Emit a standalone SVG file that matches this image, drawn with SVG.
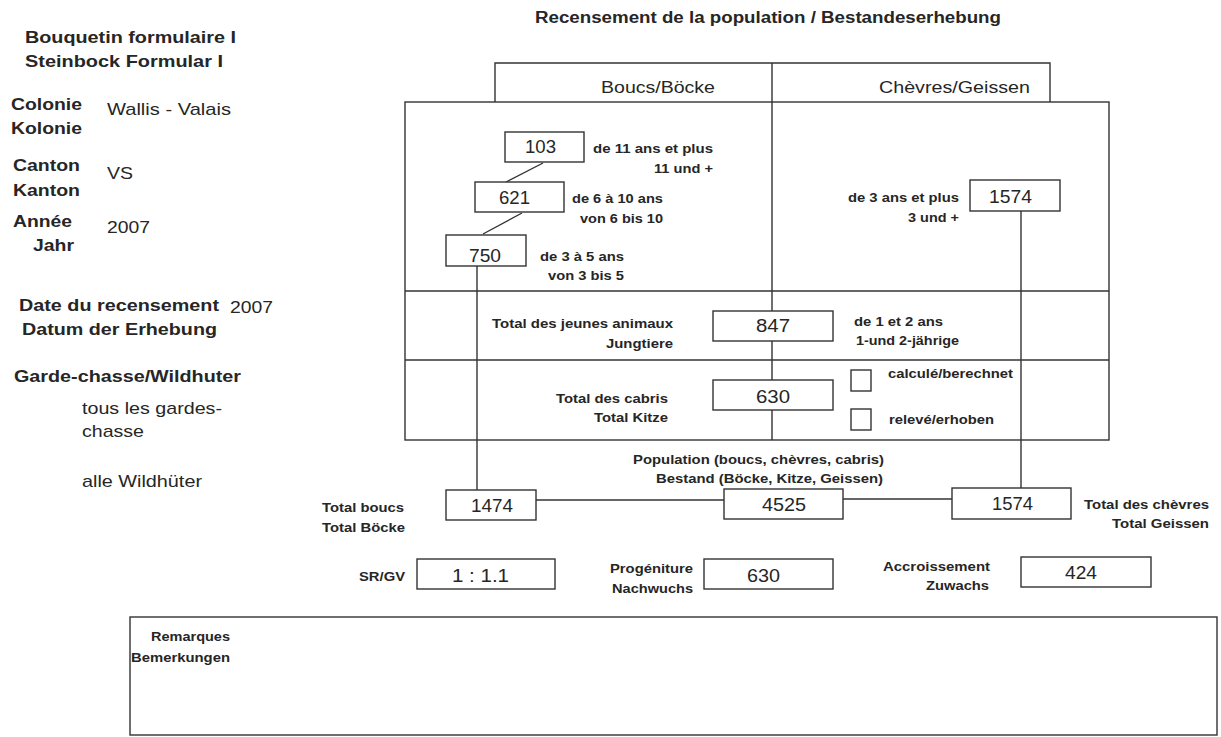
<svg xmlns="http://www.w3.org/2000/svg" width="1221" height="737" viewBox="0 0 1221 737">
<style>
text{font-family:"Liberation Sans",Arial,sans-serif;fill:#262626}
.b{font-weight:bold}
.lb{font-size:16.5px;font-weight:bold}
.lv{font-size:17px}
.sm{font-size:13px;font-weight:bold}
.num{font-size:17.5px}
.box{fill:#fff;stroke:#333;stroke-width:1.4}
.ln{stroke:#333;stroke-width:1.4;fill:none}
</style>
<rect x="0" y="0" width="1221" height="737" fill="#fff"/>

<g id="title">
<text class="b" x="535" y="23" font-size="16" textLength="466" lengthAdjust="spacingAndGlyphs">Recensement de la population / Bestandeserhebung</text>
</g>

<g id="left-info">
<text class="lb" x="25" y="43" textLength="211" lengthAdjust="spacingAndGlyphs">Bouquetin formulaire I</text>
<text class="lb" x="25" y="67" textLength="198" lengthAdjust="spacingAndGlyphs">Steinbock Formular I</text>
<text class="lb" x="11" y="110" textLength="71" lengthAdjust="spacingAndGlyphs">Colonie</text>
<text class="lb" x="11" y="134" textLength="71" lengthAdjust="spacingAndGlyphs">Kolonie</text>
<text class="lv" x="107" y="115" textLength="124" lengthAdjust="spacingAndGlyphs">Wallis - Valais</text>
<text class="lb" x="13" y="171" textLength="67" lengthAdjust="spacingAndGlyphs">Canton</text>
<text class="lb" x="13" y="196" textLength="67" lengthAdjust="spacingAndGlyphs">Kanton</text>
<text class="lv" x="107" y="179" textLength="26" lengthAdjust="spacingAndGlyphs">VS</text>
<text class="lb" x="13" y="227" textLength="59" lengthAdjust="spacingAndGlyphs">Année</text>
<text class="lb" x="33" y="251" textLength="41" lengthAdjust="spacingAndGlyphs">Jahr</text>
<text class="lv" x="107" y="233" textLength="43" lengthAdjust="spacingAndGlyphs">2007</text>
<text class="lb" x="19" y="311" textLength="200" lengthAdjust="spacingAndGlyphs">Date du recensement</text>
<text class="lv" x="230" y="313" textLength="43" lengthAdjust="spacingAndGlyphs">2007</text>
<text class="lb" x="22" y="335" textLength="195" lengthAdjust="spacingAndGlyphs">Datum der Erhebung</text>
<text class="lb" x="14" y="382" textLength="227" lengthAdjust="spacingAndGlyphs">Garde-chasse/Wildhuter</text>
<text class="lv" x="82" y="414" textLength="140" lengthAdjust="spacingAndGlyphs">tous les gardes-</text>
<text class="lv" x="82" y="437" textLength="62" lengthAdjust="spacingAndGlyphs">chasse</text>
<text class="lv" x="82" y="487" textLength="120" lengthAdjust="spacingAndGlyphs">alle Wildhüter</text>
</g>

<g id="table-frame">
<polyline class="ln" points="495,102 495,63 1050,63 1050,102"/>
<rect class="ln" x="405" y="102" width="704" height="338"/>
<line class="ln" x1="772" y1="63" x2="772" y2="440"/>
<line class="ln" x1="405" y1="291" x2="1109" y2="291"/>
<line class="ln" x1="405" y1="360" x2="1109" y2="360"/>
<text class="lv" x="601" y="93" textLength="114" lengthAdjust="spacingAndGlyphs">Boucs/Böcke</text>
<text class="lv" x="879" y="93" textLength="151" lengthAdjust="spacingAndGlyphs">Chèvres/Geissen</text>
</g>

<g id="connectors">
<line class="ln" x1="543" y1="163" x2="506" y2="182"/>
<line class="ln" x1="522" y1="213" x2="483" y2="234"/>
<line class="ln" x1="477" y1="266" x2="477" y2="490"/>
<line class="ln" x1="1021" y1="211" x2="1021" y2="488"/>
<line class="ln" x1="536" y1="500" x2="724" y2="500"/>
<line class="ln" x1="843" y1="499" x2="952" y2="499"/>
</g>

<g id="node-bucks-11plus">
<rect class="box" x="505" y="132" width="79" height="30"/>
<text class="num" x="525" y="153" textLength="31" lengthAdjust="spacingAndGlyphs">103</text>
<text class="sm" x="593" y="153" textLength="120" lengthAdjust="spacingAndGlyphs">de 11 ans et plus</text>
<text class="sm" x="654" y="173" textLength="59" lengthAdjust="spacingAndGlyphs">11 und +</text>
</g>

<g id="node-bucks-6-10">
<rect class="box" x="475" y="182" width="89" height="30"/>
<text class="num" x="499" y="204" textLength="31" lengthAdjust="spacingAndGlyphs">621</text>
<text class="sm" x="572" y="203" textLength="91" lengthAdjust="spacingAndGlyphs">de 6 à 10 ans</text>
<text class="sm" x="580" y="223" textLength="83" lengthAdjust="spacingAndGlyphs">von 6 bis 10</text>
</g>

<g id="node-bucks-3-5">
<rect class="box" x="446" y="235" width="80" height="31"/>
<text class="num" x="469" y="262" textLength="32" lengthAdjust="spacingAndGlyphs">750</text>
<text class="sm" x="540" y="261" textLength="84" lengthAdjust="spacingAndGlyphs">de 3 à 5 ans</text>
<text class="sm" x="548" y="280" textLength="76" lengthAdjust="spacingAndGlyphs">von 3 bis 5</text>
</g>

<g id="node-goats-3plus">
<rect class="box" x="970" y="180" width="90" height="31"/>
<text class="num" x="989" y="203" textLength="43" lengthAdjust="spacingAndGlyphs">1574</text>
<text class="sm" x="848" y="202" textLength="111" lengthAdjust="spacingAndGlyphs">de 3 ans et plus</text>
<text class="sm" x="908" y="222" textLength="51" lengthAdjust="spacingAndGlyphs">3 und +</text>
</g>

<g id="node-young">
<rect class="box" x="713" y="311" width="120" height="30"/>
<text class="num" x="756" y="332" textLength="34" lengthAdjust="spacingAndGlyphs">847</text>
<text class="sm" x="492" y="328" textLength="181" lengthAdjust="spacingAndGlyphs">Total des jeunes animaux</text>
<text class="sm" x="606" y="348" textLength="67" lengthAdjust="spacingAndGlyphs">Jungtiere</text>
<text class="sm" x="854" y="326" textLength="89" lengthAdjust="spacingAndGlyphs">de 1 et 2 ans</text>
<text class="sm" x="856" y="345" textLength="103" lengthAdjust="spacingAndGlyphs">1-und 2-jährige</text>
</g>

<g id="node-kids">
<rect class="box" x="713" y="380" width="120" height="30"/>
<text class="num" x="756" y="403" textLength="34" lengthAdjust="spacingAndGlyphs">630</text>
<text class="sm" x="556" y="403" textLength="112" lengthAdjust="spacingAndGlyphs">Total des cabris</text>
<text class="sm" x="594" y="422" textLength="74" lengthAdjust="spacingAndGlyphs">Total Kitze</text>
<rect class="box" x="851" y="370" width="20" height="21"/>
<rect class="box" x="851" y="409" width="20" height="21"/>
<text class="sm" x="888" y="378" textLength="125" lengthAdjust="spacingAndGlyphs">calculé/berechnet</text>
<text class="sm" x="889" y="424" textLength="105" lengthAdjust="spacingAndGlyphs">relevé/erhoben</text>
</g>

<g id="node-total-bucks">
<rect class="box" x="446" y="490" width="90" height="30"/>
<text class="num" x="471" y="512" textLength="42" lengthAdjust="spacingAndGlyphs">1474</text>
<text class="sm" x="322" y="512" textLength="82" lengthAdjust="spacingAndGlyphs">Total boucs</text>
<text class="sm" x="322" y="532" textLength="83" lengthAdjust="spacingAndGlyphs">Total Böcke</text>
</g>

<g id="node-population">
<rect class="box" x="724" y="489" width="119" height="30"/>
<text class="num" x="762" y="511" textLength="44" lengthAdjust="spacingAndGlyphs">4525</text>
<text class="sm" x="633" y="464" textLength="251" lengthAdjust="spacingAndGlyphs">Population (boucs, chèvres, cabris)</text>
<text class="sm" x="656" y="483" textLength="227" lengthAdjust="spacingAndGlyphs">Bestand (Böcke, Kitze, Geissen)</text>
</g>

<g id="node-total-goats">
<rect class="box" x="952" y="488" width="119" height="31"/>
<text class="num" x="992" y="510" textLength="41" lengthAdjust="spacingAndGlyphs">1574</text>
<text class="sm" x="1084" y="509" textLength="125" lengthAdjust="spacingAndGlyphs">Total des chèvres</text>
<text class="sm" x="1112" y="528" textLength="97" lengthAdjust="spacingAndGlyphs">Total Geissen</text>
</g>

<g id="node-sex-ratio">
<rect class="box" x="417" y="559" width="138" height="30"/>
<text class="num" x="452" y="582" textLength="57" lengthAdjust="spacingAndGlyphs">1  : 1.1</text>
<text class="sm" x="359" y="581" textLength="46" lengthAdjust="spacingAndGlyphs">SR/GV</text>
</g>

<g id="node-offspring">
<rect class="box" x="704" y="559" width="129" height="30"/>
<text class="num" x="747" y="582" textLength="33" lengthAdjust="spacingAndGlyphs">630</text>
<text class="sm" x="610" y="573" textLength="83" lengthAdjust="spacingAndGlyphs">Progéniture</text>
<text class="sm" x="612" y="593" textLength="81" lengthAdjust="spacingAndGlyphs">Nachwuchs</text>
</g>

<g id="node-growth">
<rect class="box" x="1021" y="557" width="130" height="30"/>
<text class="num" x="1065" y="579" textLength="32" lengthAdjust="spacingAndGlyphs">424</text>
<text class="sm" x="883" y="571" textLength="107" lengthAdjust="spacingAndGlyphs">Accroissement</text>
<text class="sm" x="926" y="590" textLength="63" lengthAdjust="spacingAndGlyphs">Zuwachs</text>
</g>

<g id="node-remarks">
<rect class="ln" x="130" y="617" width="1087" height="118"/>
<text class="b" font-size="13" x="151" y="641" textLength="79" lengthAdjust="spacingAndGlyphs">Remarques</text>
<text class="b" font-size="13" x="131" y="662" textLength="99" lengthAdjust="spacingAndGlyphs">Bemerkungen</text>
</g>
</svg>
